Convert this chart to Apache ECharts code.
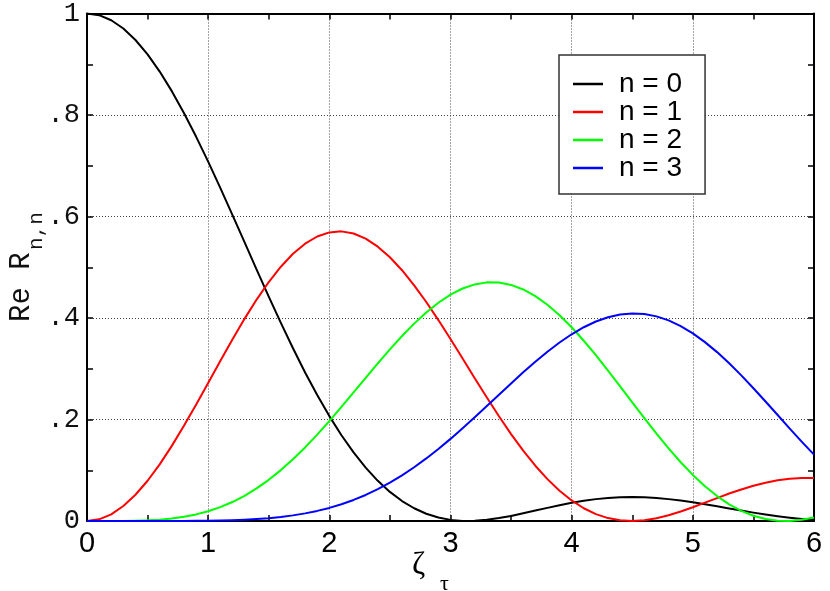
<!DOCTYPE html>
<html>
<head>
<meta charset="utf-8">
<script src="https://cdn.jsdelivr.net/npm/echarts@6/dist/echarts.min.js"></script>
<style>
html,body{margin:0;padding:0;background:#fff;}
#chart{width:830px;height:591px;}
</style>
</head>
<body>
<div id="chart"></div>
<script>
// x positions (zeta_tau), step 0.1
const xValues = [0.0,0.1,0.2,0.3,0.4,0.5,0.6,0.7,0.8,0.9,1.0,1.1,1.2,1.3,1.4,1.5,1.6,1.7,1.8,1.9,2.0,2.1,2.2,2.3,2.4,2.5,2.6,2.7,2.8,2.9,3.0,3.1,3.2,3.3,3.4,3.5,3.6,3.7,3.8,3.9,4.0,4.1,4.2,4.3,4.4,4.5,4.6,4.7,4.8,4.9,5.0,5.1,5.2,5.3,5.4,5.5,5.6,5.7,5.8,5.9,6.0];
// Re R_{n,n} values
const n0 = [1.0,0.9967,0.9867,0.9704,0.9478,0.9194,0.8856,0.8470,0.8041,0.7575,0.7081,0.6564,0.6033,0.5494,0.4955,0.4422,0.3903,0.3403,0.2927,0.2481,0.2067,0.1690,0.1351,0.1051,0.0792,0.0573,0.0393,0.0251,0.0143,0.0068,0.0022,0.0002,0.0003,0.0023,0.0057,0.0100,0.0151,0.0205,0.0259,0.0311,0.0358,0.0398,0.0431,0.0454,0.0468,0.0472,0.0467,0.0453,0.0431,0.0402,0.0368,0.0330,0.0289,0.0247,0.0205,0.0165,0.0127,0.0093,0.0064,0.0040,0.0022];
const n1 = [0.0,0.0033,0.0132,0.0295,0.0517,0.0793,0.1116,0.1480,0.1875,0.2292,0.2721,0.3153,0.3577,0.3983,0.4363,0.4709,0.5011,0.5265,0.5465,0.5606,0.5687,0.5707,0.5665,0.5564,0.5406,0.5197,0.4941,0.4644,0.4315,0.3959,0.3585,0.3201,0.2814,0.2433,0.2063,0.1713,0.1386,0.1089,0.0825,0.0596,0.0405,0.0251,0.0136,0.0057,0.0013,0.0000,0.0015,0.0055,0.0113,0.0187,0.0271,0.0361,0.0452,0.0541,0.0622,0.0695,0.0755,0.0801,0.0832,0.0846,0.0845];
const n2 = [0.0,0.0000,0.0000,0.0002,0.0006,0.0013,0.0027,0.0050,0.0083,0.0130,0.0192,0.0273,0.0374,0.0497,0.0642,0.0811,0.1003,0.1216,0.1450,0.1702,0.1969,0.2247,0.2533,0.2820,0.3105,0.3382,0.3645,0.3889,0.4109,0.4301,0.4459,0.4581,0.4662,0.4702,0.4699,0.4652,0.4562,0.4430,0.4260,0.4054,0.3817,0.3552,0.3267,0.2965,0.2654,0.2339,0.2026,0.1721,0.1430,0.1157,0.0908,0.0684,0.0491,0.0329,0.0199,0.0103,0.0039,0.0006,0.0002,0.0024,0.0070];
const n3 = [0.0,0.0,0.0,0.0,0.0,0.00001,0.00003,0.00007,0.00016,0.00031,0.00057,0.00098,0.0016,0.0025,0.0038,0.0056,0.0080,0.0111,0.0150,0.0199,0.0258,0.0330,0.0415,0.0513,0.0627,0.0756,0.0900,0.1059,0.1233,0.1420,0.1618,0.1827,0.2044,0.2265,0.2489,0.2711,0.2929,0.3138,0.3336,0.3517,0.3679,0.3818,0.3931,0.4015,0.4069,0.4091,0.4078,0.4032,0.3953,0.3841,0.3697,0.3525,0.3328,0.3107,0.2869,0.2616,0.2355,0.2088,0.1821,0.1560,0.1308];
const seriesNames = ['n = 0','n = 1','n = 2','n = 3'];
const seriesColors = ['#000000','#ff0000','#00ff00','#0000ff'];
const xTickLabels = ['0','1','2','3','4','5','6'];
const yTickLabels = ['0','.2','.4','.6','.8','1'];

const chart = echarts.init(document.getElementById('chart'), null, {renderer:'canvas'});
const allY = [n0,n1,n2,n3];
const series = allY.map((ys,i)=>({
  name: seriesNames[i],
  type: 'line',
  data: xValues.map((x,j)=>[x, ys[j]]),
  smooth: false,
  showSymbol: false,
  symbol: 'none',
  color: seriesColors[i],
  lineStyle: {color: seriesColors[i], width: 2, join:'round'},
  xAxisIndex: 0, yAxisIndex: 0,
  z: 3
}));

const tickCommon = {show:true, inside:true, length:6, lineStyle:{color:'#000', width:1.5}};
const minorCommon = {show:true, splitNumber:2, length:6, lineStyle:{color:'#000', width:1.5}};

chart.setOption({
  animation: false,
  backgroundColor: '#fff',
  grid: {left:87, right:16, top:12, bottom:70, containLabel:false},
  xAxis: [{
    type:'value', min:0, max:6, interval:1, position:'bottom',
    axisLine:{show:true, onZero:false, lineStyle:{color:'#000', width:2}},
    axisTick: tickCommon,
    minorTick: minorCommon,
    axisLabel:{show:true, margin:8, color:'#000', fontFamily:'"Liberation Sans Narrow","Liberation Sans",Arial,sans-serif', fontSize:29,
      formatter: v => xTickLabels[Math.round(v)]},
    splitLine:{show:true, lineStyle:{color:'#444', width:1, type:[1,2]}},
    minorSplitLine:{show:false}
  },{
    type:'value', min:0, max:6, interval:1, position:'top',
    axisLine:{show:true, onZero:false, lineStyle:{color:'#000', width:2}},
    axisTick: tickCommon, minorTick: minorCommon,
    axisLabel:{show:false}, splitLine:{show:false}
  }],
  yAxis: [{
    type:'value', min:0, max:1, interval:0.2, position:'left',
    axisLine:{show:true, onZero:false, lineStyle:{color:'#000', width:2}},
    axisTick: tickCommon,
    minorTick: minorCommon,
    axisLabel:{show:true, margin:7, color:'#111', fontFamily:'"Liberation Mono","DejaVu Sans Mono",monospace', fontSize:27,
      formatter: v => yTickLabels[Math.round(v/0.2)]},
    splitLine:{show:true, lineStyle:{color:'#444', width:1, type:[1,2]}}
  },{
    type:'value', min:0, max:1, interval:0.2, position:'right',
    axisLine:{show:true, onZero:false, lineStyle:{color:'#000', width:2}},
    axisTick: tickCommon, minorTick: minorCommon,
    axisLabel:{show:false}, splitLine:{show:false}
  }],
  legend: {
    show:true, orient:'vertical', left:559, top:55,
    padding:[15,23,12,14],
    backgroundColor:'#fff', borderColor:'#333', borderWidth:1.5,
    itemWidth:30, itemHeight:2.5, itemGap:0, icon:'rect',
    data: seriesNames,
    textStyle:{color:'#000', fontFamily:'"Liberation Sans",Arial,sans-serif', fontSize:28, lineHeight:26, padding:[0,0,0,11]}
  },
  graphic: [
    {type:'group', x:0, y:322, rotation:Math.PI/2, children:[
      {type:'text', x:0, y:21, style:{text:'Re R', fill:'#111', font:'29px "Liberation Mono","DejaVu Sans Mono",monospace', textAlign:'left', textVerticalAlign:'middle'}},
      {type:'text', x:72, y:36.5, style:{text:'n,n', fill:'#111', font:'21px "Liberation Mono","DejaVu Sans Mono",monospace', textAlign:'left', textVerticalAlign:'middle'}}
    ]},
    {type:'text', x:412, y:566, style:{text:'ζ', fill:'#000', font:'32px "Liberation Serif","DejaVu Serif",serif', textAlign:'left', textVerticalAlign:'middle'}},
    {type:'text', x:440, y:584, style:{text:'τ', fill:'#000', font:'22px "Liberation Serif","DejaVu Serif",serif', textAlign:'left', textVerticalAlign:'middle'}}
  ],
  series: series
});
</script>
</body>
</html>
